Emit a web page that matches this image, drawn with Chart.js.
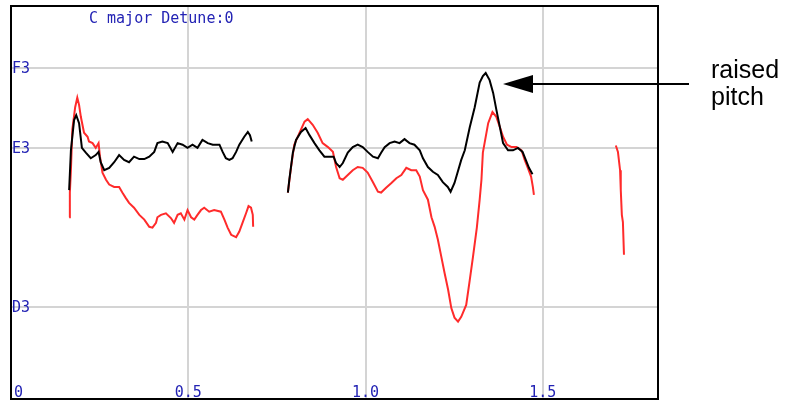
<!DOCTYPE html>
<html>
<head>
<meta charset="utf-8">
<script src="https://cdn.jsdelivr.net/npm/chart.js@4/dist/chart.umd.min.js"></script>
<style>
  body { margin: 0; background: #fff; }
  canvas { display: block; }
</style>
</head>
<body>
<canvas id="pitch-chart" width="789" height="401"></canvas>
<script>
// time in seconds, pitch in semitones (MIDI note numbers, E3 = 52)
let blackTimes = [0.164, 0.169, 0.178, 0.184, 0.192, 0.200, 0.211, 0.225, 0.239, 0.247, 0.253, 0.263, 0.277, 0.291,
  0.305, 0.319, 0.333, 0.347, 0.362, 0.376, 0.390, 0.404, 0.413, 0.427, 0.442, 0.456, 0.470, 0.484, 0.498, 0.512,
  0.526, 0.540, 0.555, 0.569, 0.588, 0.597, 0.606, 0.616, 0.625, 0.635, 0.644, 0.658, 0.668, 0.674, 0.679,
  0.730,
  0.781, 0.785, 0.795, 0.804, 0.818, 0.831, 0.842, 0.856, 0.870, 0.884, 0.898, 0.910, 0.917, 0.927, 0.936, 0.950,
  0.964, 0.978, 0.992, 1.006, 1.021, 1.035, 1.044, 1.054, 1.068, 1.082, 1.096, 1.110, 1.124, 1.138, 1.153, 1.162,
  1.176, 1.190, 1.204, 1.218, 1.232, 1.240, 1.251, 1.270, 1.280, 1.294, 1.308, 1.322, 1.331, 1.339, 1.350, 1.360,
  1.369, 1.379, 1.388, 1.402, 1.416, 1.430, 1.443, 1.452, 1.461, 1.471];
let blackPitch = [51.47, 51.97, 52.35, 52.41, 52.31, 52.00, 51.94, 51.87, 51.91, 51.95, 51.82, 51.72, 51.75, 51.82,
  51.91, 51.85, 51.82, 51.89, 51.86, 51.86, 51.89, 51.95, 52.06, 52.08, 52.06, 51.95, 52.06, 52.04, 52.00, 52.04,
  52.00, 52.10, 52.06, 52.04, 52.04, 51.95, 51.87, 51.85, 51.87, 51.95, 52.04, 52.14, 52.20, 52.16, 52.08,
  null,
  51.44, 51.60, 51.94, 52.10, 52.20, 52.25, 52.16, 52.06, 51.97, 51.89, 51.89, 51.89, 51.81, 51.76, 51.81, 51.94,
  52.01, 52.04, 52.01, 51.95, 51.89, 51.87, 51.94, 52.01, 52.06, 52.08, 52.06, 52.11, 52.06, 52.04, 51.97, 51.87,
  51.76, 51.70, 51.66, 51.57, 51.51, 51.45, 51.56, 51.85, 51.97, 52.26, 52.51, 52.82, 52.90, 52.94, 52.85, 52.69,
  52.48, 52.26, 52.06, 51.97, 51.97, 52.00, 51.95, 51.85, 51.75, 51.67];

let redTimes = [0.164, 0.166, 0.169, 0.173, 0.181, 0.187, 0.192, 0.197, 0.206, 0.216, 0.220, 0.230, 0.239, 0.247,
  0.251, 0.258, 0.268, 0.277, 0.291, 0.305, 0.314, 0.324, 0.333, 0.347, 0.362, 0.376, 0.390, 0.399, 0.409, 0.413,
  0.423, 0.437, 0.451, 0.460, 0.470, 0.479, 0.489, 0.498, 0.508, 0.517, 0.526, 0.536, 0.545, 0.559, 0.573, 0.592,
  0.602, 0.611, 0.621, 0.635, 0.644, 0.653, 0.663, 0.670, 0.677, 0.682, 0.683,
  0.730,
  0.781, 0.790, 0.799, 0.814, 0.828, 0.837, 0.851, 0.865, 0.879, 0.894, 0.908, 0.917, 0.927, 0.936, 0.950, 0.964,
  0.978, 0.992, 1.006, 1.021, 1.035, 1.044, 1.058, 1.073, 1.087, 1.101, 1.115, 1.129, 1.143, 1.153, 1.162, 1.176,
  1.186, 1.195, 1.204, 1.214, 1.223, 1.233, 1.242, 1.251, 1.261, 1.270, 1.284, 1.294, 1.303, 1.314, 1.322, 1.327,
  1.331, 1.346, 1.358, 1.369, 1.379, 1.388, 1.399, 1.412, 1.426, 1.440, 1.449, 1.457, 1.467, 1.472, 1.475,
  1.590,
  1.706, 1.712, 1.718, 1.720, 1.723, 1.726, 1.729];
let redPitch = [51.13, 51.44, 51.72, 52.23, 52.51, 52.63, 52.54, 52.39, 52.19, 52.14, 52.08, 52.06, 52.00, 52.06,
  51.89, 51.69, 51.60, 51.54, 51.51, 51.51, 51.44, 51.37, 51.31, 51.25, 51.16, 51.10, 51.01, 51.00, 51.06, 51.13,
  51.16, 51.18, 51.12, 51.06, 51.16, 51.18, 51.10, 51.22, 51.13, 51.10, 51.16, 51.22, 51.25, 51.20, 51.22, 51.20,
  51.10, 51.00, 50.91, 50.88, 50.95, 51.06, 51.18, 51.27, 51.25, 51.16, 51.01,
  null,
  51.44, 51.76, 52.04, 52.19, 52.33, 52.36, 52.29, 52.19, 52.06, 52.01, 51.95, 51.76, 51.62, 51.60, 51.66, 51.72,
  51.76, 51.75, 51.69, 51.57, 51.45, 51.44, 51.50, 51.56, 51.62, 51.66, 51.75, 51.72, 51.72, 51.64, 51.47, 51.35,
  51.13, 51.01, 50.85, 50.63, 50.43, 50.22, 49.99, 49.87, 49.82, 49.88, 50.03, 50.34, 50.63, 51.00, 51.35, 51.60,
  51.94, 52.31, 52.45, 52.39, 52.26, 52.14, 52.04, 52.01, 52.01, 51.97, 51.85, 51.76, 51.64, 51.51, 51.41,
  null,
  52.03, 51.95, 51.72, 51.47, 51.16, 51.07, 50.66];

let timeTicks = [0, 0.5, 1.0, 1.5];
let timeLabels = ['0', '0.5', '1.0', '1.5'];
let noteTicks = [50, 52, 53];
let noteLabels = ['D3', 'E3', 'F3'];

let blue = '#2323b4';
let gridGray = '#d4d4d4';

function toPoints(times, values) {
  return times.map(function (t, i) { return { x: t, y: values[i] }; });
}

// tick labels sit inside the plot, plus frame, title and the arrow note
let overlay = {
  id: 'overlay',
  afterDraw: function (chart) {
    let ctx = chart.ctx;
    let area = chart.chartArea;
    let xs = chart.scales.x;
    let ys = chart.scales.y;
    ctx.save();

    ctx.strokeStyle = '#000';
    ctx.lineWidth = 2;
    ctx.strokeRect(area.left, area.top, area.right - area.left, area.bottom - area.top);

    ctx.fillStyle = blue;
    ctx.font = '15px "DejaVu Sans Mono"';
    ctx.textBaseline = 'middle';
    ctx.textAlign = 'left';
    noteTicks.forEach(function (v, i) {
      ctx.fillText(noteLabels[i], area.left + 1, ys.getPixelForValue(v) + 1);
    });

    ctx.textBaseline = 'alphabetic';
    timeTicks.forEach(function (v, i) {
      ctx.textAlign = i === 0 ? 'left' : 'center';
      let px = xs.getPixelForValue(v) + (i === 0 ? 3 : 0);
      ctx.fillText(timeLabels[i], px, area.bottom - 2);
    });

    ctx.textAlign = 'left';
    ctx.fillText('C major Detune:0', 89, 23);

    // arrow pointing at the black peak
    ctx.strokeStyle = '#000';
    ctx.fillStyle = '#000';
    ctx.lineWidth = 2;
    ctx.beginPath();
    ctx.moveTo(689, 84);
    ctx.lineTo(530, 84);
    ctx.stroke();
    ctx.beginPath();
    ctx.moveTo(503, 84);
    ctx.lineTo(533, 75);
    ctx.lineTo(533, 93);
    ctx.closePath();
    ctx.fill();

    ctx.font = '25px "Liberation Sans"';
    ctx.fillText('raised', 711, 78);
    ctx.fillText('pitch', 711, 105);
    ctx.restore();
  }
};

let ctx = document.getElementById('pitch-chart').getContext('2d');
let chart = new Chart(ctx, {
  type: 'line',
  data: {
    datasets: [{
      label: 'black',
      data: toPoints(blackTimes, blackPitch),
      borderColor: '#000000',
      borderWidth: 2,
      pointRadius: 0,
      spanGaps: false,
      order: 0
    }, {
      label: 'red',
      data: toPoints(redTimes, redPitch),
      borderColor: '#ff2b2b',
      borderWidth: 2,
      pointRadius: 0,
      spanGaps: false,
      order: 1
    }]
  },
  options: {
    responsive: false,
    animation: false,
    layout: { padding: { left: 11, top: 6, right: 131, bottom: 2 } },
    plugins: { legend: { display: false }, tooltip: { enabled: false } },
    scales: {
      x: {
        type: 'linear',
        min: 0,
        max: 1.825,
        afterBuildTicks: function (scale) {
          scale.ticks = timeTicks.map(function (v) { return { value: v }; });
        },
        ticks: { display: false },
        border: { display: false },
        grid: { color: gridGray, lineWidth: 2, drawTicks: false }
      },
      y: {
        type: 'linear',
        min: 48.85,
        max: 53.78,
        afterBuildTicks: function (scale) {
          scale.ticks = noteTicks.map(function (v) { return { value: v }; });
        },
        ticks: { display: false },
        border: { display: false },
        grid: { color: gridGray, lineWidth: 2, drawTicks: false }
      }
    }
  },
  plugins: [overlay]
});
</script>
</body>
</html>
